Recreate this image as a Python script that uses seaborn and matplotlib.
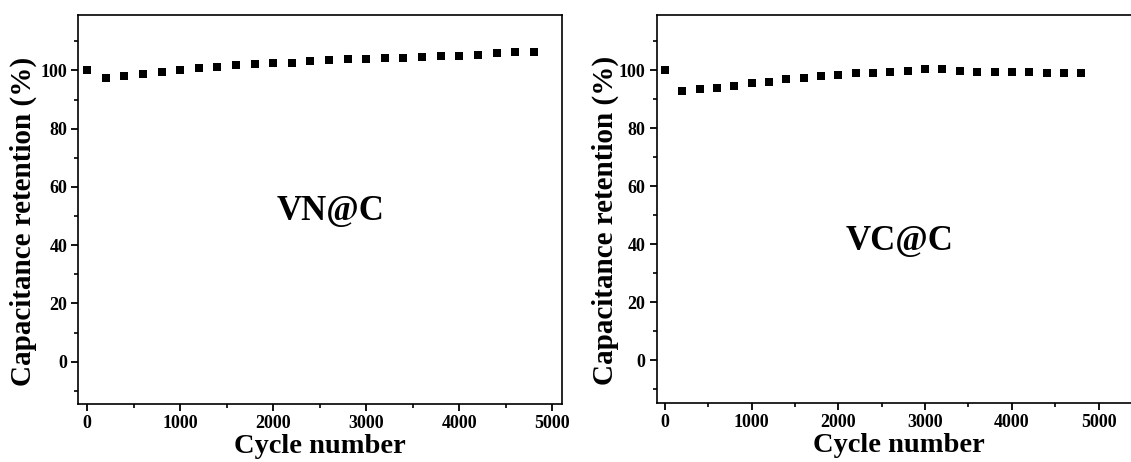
import numpy as np
import pandas as pd
import matplotlib
matplotlib.use("Agg")
import matplotlib.pyplot as plt
from matplotlib.ticker import MultipleLocator
import seaborn as sns

# cycle numbers (same for both samples)
cycles = list(range(0, 5000, 200))

# capacitance retention (%)
vn_retention = [100.0, 97.5, 98.0, 98.6, 99.5, 100.2, 100.8, 101.3, 101.9, 102.2,
                102.5, 102.7, 103.2, 103.5, 103.9, 104.0, 104.3, 104.3, 104.6, 104.8,
                105.0, 105.4, 105.8, 106.4, 106.4]
vc_retention = [100.0, 92.8, 93.4, 93.8, 94.5, 95.4, 96.0, 96.8, 97.4, 97.8,
                98.2, 98.9, 99.1, 99.3, 99.7, 100.3, 100.5, 99.8, 99.5, 99.4,
                99.3, 99.2, 99.1, 99.0, 99.0]

labels = ["VN@C", "VC@C"]

sns.set_style("ticks")
plt.rcParams["font.family"] = ["Liberation Serif", "DejaVu Serif"]
plt.rcParams["font.weight"] = "bold"
plt.rcParams["text.color"] = "black"
plt.rcParams["axes.labelcolor"] = "black"
plt.rcParams["xtick.color"] = "black"
plt.rcParams["ytick.color"] = "black"
plt.rcParams["axes.edgecolor"] = "black"

fig = plt.figure(figsize=(11.31, 4.62), dpi=100)
ax1 = fig.add_axes([0.0692, 0.1255, 0.4274, 0.842])
ax2 = fig.add_axes([0.5806, 0.127, 0.4291, 0.8405])

df1 = pd.DataFrame({"cycle": cycles, "ret": vn_retention})
df2 = pd.DataFrame({"cycle": cycles, "ret": vc_retention})

setups = [
    (ax1, df1, labels[0], (-95, 5100), (-14.5, 119), (2613, 51.4), -0.085),
    (ax2, df2, labels[1], (-95, 5500), (-14.9, 119), (2710, 41.0), -0.078),
]

for ax, df, name, xl, yl, txt, ylx in setups:
    sns.scatterplot(data=df, x="cycle", y="ret", ax=ax, marker="s",
                    s=32, color="black", linewidth=0)
    ax.set_xlim(*xl)
    ax.set_ylim(*yl)
    ax.set_xticks([0, 1000, 2000, 3000, 4000, 5000])
    ax.set_yticks([0, 20, 40, 60, 80, 100])
    ax.xaxis.set_minor_locator(MultipleLocator(500))
    ax.yaxis.set_minor_locator(MultipleLocator(10))
    ax.tick_params(which="major", direction="out", length=5, width=1.3,
                   labelsize=13, pad=3)
    ax.tick_params(which="minor", direction="out", length=3, width=1.2)
    for lab in ax.get_xticklabels() + ax.get_yticklabels():
        lab.set_fontweight("bold")
    for sp in ax.spines.values():
        sp.set_linewidth(1.2)
        sp.set_visible(True)
        sp.set_color("black")
    ax.set_xlabel("Cycle number", fontsize=20.5, fontweight="bold", labelpad=1)
    ax.set_ylabel("Capacitance retention (%)", fontsize=21, fontweight="bold")
    ax.yaxis.set_label_coords(ylx, 0.47)
    ax.text(txt[0], txt[1], name, fontsize=25, fontweight="bold",
            ha="center", va="center")
    ax.set_facecolor("white")

fig.savefig("out.png", dpi=100, facecolor="white")
